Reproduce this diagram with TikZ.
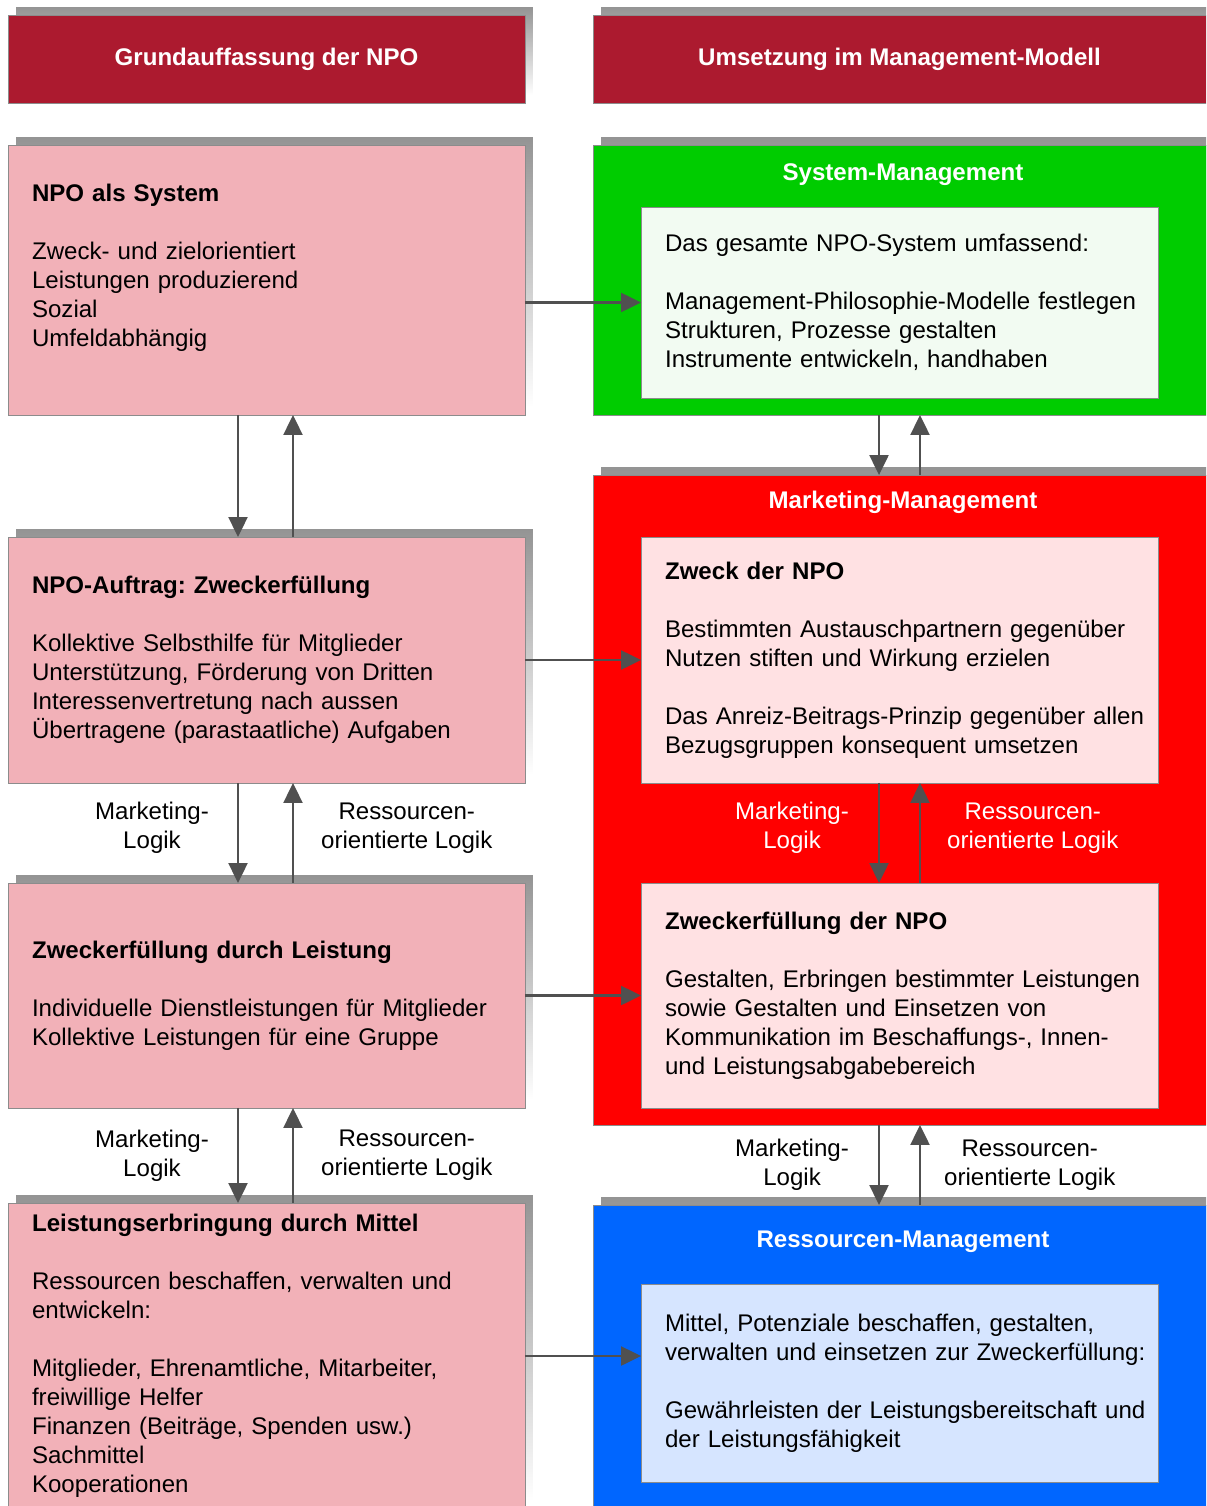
\documentclass[tikz,border=0pt]{standalone}
\usepackage{fontspec}
\setmainfont{Liberation Sans}
\usetikzlibrary{arrows.meta,positioning,shadows}

\definecolor{headredcol}{HTML}{AC1A2F}
\definecolor{pinkcol}{HTML}{F2B1B8}
\definecolor{greencol}{HTML}{00CC00}
\definecolor{greeninnercol}{HTML}{F2FBF2}
\definecolor{redcol}{HTML}{FF0000}
\definecolor{redinnercol}{HTML}{FFE1E3}
\definecolor{bluecol}{HTML}{0066FF}
\definecolor{blueinnercol}{HTML}{D6E5FF}
\definecolor{arrowcol}{HTML}{505050}
\definecolor{framecol}{HTML}{8C8C8C}

\begin{document}
\begin{tikzpicture}[
    x=0.02cm, y=-0.02cm,
    font=\fontsize{13.7}{16.5}\selectfont\frenchspacing,
    % drop shadow up and to the right
    shadowed/.style={general shadow={shadow xshift=0.16cm, shadow yshift=0.16cm,
        top color=black!42, bottom color=white}},
    % red column headers
    header/.style={rectangle, shadowed, draw=framecol, line width=0.5pt, fill=headredcol,
        text=white, font=\fontsize{13.7}{16.5}\selectfont\bfseries, outer sep=0pt,
        minimum height=1.76cm, align=center},
    % text boxes
    textbox/.style={rectangle, draw=framecol, line width=0.5pt, outer sep=0pt,
        inner xsep=0.48cm, inner ysep=0pt, text width=9.38cm, align=left,
        execute at begin node={\rightskip=-0.4cm plus 1fil}},
    npobox/.style={textbox, shadowed, fill=pinkcol},
    % coloured management blocks
    mgmt/.style={rectangle, shadowed, draw=framecol, line width=0.5pt, outer sep=0pt,
        minimum width=12.4cm},
    mgmttitle/.style={text=white, font=\fontsize{13.7}{16.5}\selectfont\bfseries},
    % arrows and labels
    arrow/.style={-{Triangle[length=0.4cm, width=0.38cm]}, line width=1.3pt, draw=arrowcol},
    logic/.style={inner sep=0pt, align=center}
]
    \useasboundingbox (0,0) rectangle (1206,1506);
    \clip (0,0) rectangle (1206,1506);

    % Column headers
    \node[header, minimum width=10.34cm] (headl) at (266.5,59) {Grundauffassung der NPO};
    \node[header, minimum width=12.26cm] (headr) at (899.5,59) {Umsetzung im Management-Modell};

    % Left column
    \node[npobox, minimum height=5.4cm] (system) at (266.5,280) {%
        {\bfseries NPO als System}\\[16.5pt]
        Zweck- und zielorientiert\\
        Leistungen produzierend\\
        Sozial\\
        Umfeldabhängig\\~};
    \node[npobox, minimum height=4.92cm] (auftrag) at (266.5,660) {%
        {\bfseries NPO-Auftrag: Zweckerfüllung}\\[16.5pt]
        Kollektive Selbsthilfe für Mitglieder\\
        Unterstützung, Förderung von Dritten\\
        Interessenvertretung nach aussen\\
        Übertragene (parastaatliche) Aufgaben};
    \node[npobox, minimum height=4.5cm] (leistung) at (266.5,995.5) {%
        {\bfseries Zweckerfüllung durch Leistung}\\[16.5pt]
        Individuelle Dienstleistungen für Mitglieder\\
        Kollektive Leistungen für eine Gruppe};
    \node[npobox, minimum height=6.12cm] (mittel) at (266.5,1356) {%
        {\bfseries Leistungserbringung durch Mittel}\\[16.5pt]
        Ressourcen beschaffen, verwalten und\\
        entwickeln:\\[16.5pt]
        Mitglieder, Ehrenamtliche, Mitarbeiter,\\
        freiwillige Helfer\\
        Finanzen (Beiträge, Spenden usw.)\\
        Sachmittel\\
        Kooperationen};

    % Right column: management blocks
    \node[mgmt, fill=greencol, minimum height=5.4cm] (sysmgmt) at (903,280) {};
    \node[mgmt, fill=redcol, minimum height=13cm] (mktmgmt) at (903,800) {};
    \node[mgmt, fill=bluecol, minimum height=6.28cm] (resmgmt) at (903,1362) {};

    \node[mgmttitle] (systitle) at (903,175) {System-Management};
    \node[mgmttitle] (mkttitle) at (903,502) {Marketing-Management};
    \node[mgmttitle] (restitle) at (903,1242) {Ressourcen-Management};

    \node[textbox, fill=greeninnercol, minimum height=3.82cm] (sysinner) at (899.5,302.5) {%
        Das gesamte NPO-System umfassend:\\[16.5pt]
        Management-Philosophie-Modelle festlegen\\
        Strukturen, Prozesse gestalten\\
        Instrumente entwickeln, handhaben};
    \node[textbox, fill=redinnercol, minimum height=4.92cm] (zweck) at (899.5,660) {%
        {\bfseries Zweck der NPO}\\[16.5pt]
        Bestimmten Austauschpartnern gegenüber\\
        Nutzen stiften und Wirkung erzielen\\[16.5pt]
        Das Anreiz-Beitrags-Prinzip gegenüber allen\\
        Bezugsgruppen konsequent umsetzen};
    \node[textbox, fill=redinnercol, minimum height=4.5cm] (zweckerf) at (899.5,995.5) {%
        {\bfseries Zweckerfüllung der NPO}\\[16.5pt]
        Gestalten, Erbringen bestimmter Leistungen\\
        sowie Gestalten und Einsetzen von\\
        Kommunikation im Beschaffungs-, Innen-\\
        und Leistungsabgabebereich};
    \node[textbox, fill=blueinnercol, minimum height=3.96cm] (resinner) at (899.5,1383) {%
        Mittel, Potenziale beschaffen, gestalten,\\
        verwalten und einsetzen zur Zweckerfüllung:\\[16.5pt]
        Gewährleisten der Leistungsbereitschaft und\\
        der Leistungsfähigkeit};

    % Left column: down and up arrows
    \draw[arrow] ([xshift=-0.57cm]system.south) -- ([xshift=-0.57cm]auftrag.north);
    \draw[arrow] ([xshift=0.53cm]auftrag.north) -- ([xshift=0.53cm]system.south);
    \draw[arrow] ([xshift=-0.57cm]auftrag.south) -- ([xshift=-0.57cm]leistung.north)
        node[logic, midway, left=0.56cm, yshift=0.1cm] {Marketing-\\Logik};
    \draw[arrow] ([xshift=0.53cm]leistung.north) -- ([xshift=0.53cm]auftrag.south)
        node[logic, midway, right=0.54cm, yshift=0.1cm] {Ressourcen-\\orientierte Logik};
    \draw[arrow] ([xshift=-0.57cm]leistung.south) -- ([xshift=-0.57cm]mittel.north)
        node[logic, midway, left=0.56cm] {Marketing-\\Logik};
    \draw[arrow] ([xshift=0.53cm]mittel.north) -- ([xshift=0.53cm]leistung.south)
        node[logic, midway, right=0.54cm] {Ressourcen-\\orientierte Logik};

    % Right column: down and up arrows
    \draw[arrow] ([xshift=-0.41cm]sysinner.south |- sysmgmt.south) -- ([xshift=-0.41cm]sysinner.south |- mktmgmt.north);
    \draw[arrow] ([xshift=0.41cm]sysinner.south |- mktmgmt.north) -- ([xshift=0.41cm]sysinner.south |- sysmgmt.south);
    \draw[arrow] ([xshift=-0.41cm]zweck.south) -- ([xshift=-0.41cm]zweckerf.north)
        node[logic, midway, left=0.58cm, yshift=0.1cm, text=white] {Marketing-\\Logik};
    \draw[arrow] ([xshift=0.41cm]zweckerf.north) -- ([xshift=0.41cm]zweck.south)
        node[logic, midway, right=0.52cm, yshift=0.1cm, text=white] {Ressourcen-\\orientierte Logik};
    \draw[arrow] ([xshift=-0.41cm]zweckerf.south |- mktmgmt.south) -- ([xshift=-0.41cm]zweckerf.south |- resmgmt.north)
        node[logic, midway, left=0.58cm] {Marketing-\\Logik};
    \draw[arrow] ([xshift=0.41cm]zweckerf.south |- resmgmt.north) -- ([xshift=0.41cm]zweckerf.south |- mktmgmt.south)
        node[logic, midway, right=0.46cm] {Ressourcen-\\orientierte Logik};

    % Left to right arrows
    \draw[arrow] (system.east |- sysinner.west) -- (sysinner.west);
    \draw[arrow] (auftrag.east) -- (zweck.west);
    \draw[arrow] (leistung.east) -- (zweckerf.west);
    \draw[arrow] (mittel.east) -- (mittel.east -| resinner.west);
\end{tikzpicture}
\end{document}
